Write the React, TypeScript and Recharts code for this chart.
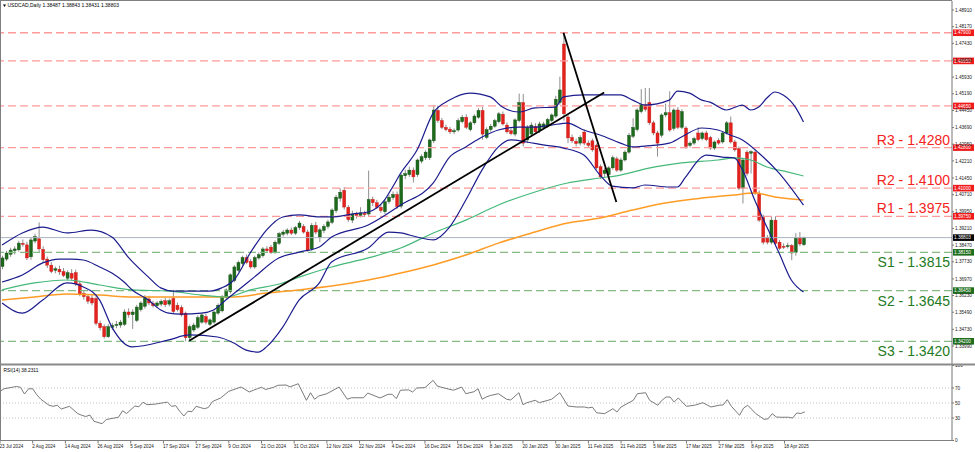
import React from "react";
import { ComposedChart, Bar, Line, XAxis, YAxis, ReferenceLine } from "recharts";

// daily candles, 23 Jul 2024 .. 25 Apr 2025 (bar index 0..197)
const opens = [
  1.3752, 1.3785, 1.3806, 1.3822, 1.3826, 1.3855, 1.3848, 1.3795, 1.3865, 1.3875,
  1.3828, 1.3785, 1.3758, 1.3735, 1.374, 1.373, 1.37, 1.3722, 1.3725, 1.3675,
  1.3632, 1.3618, 1.3612, 1.361, 1.35, 1.3485, 1.344, 1.3482, 1.349, 1.3492,
  1.3495, 1.355, 1.3538, 1.3512, 1.356, 1.3575, 1.3608, 1.3588, 1.3578, 1.3585,
  1.36, 1.3585, 1.361, 1.358, 1.357, 1.3545, 1.3436, 1.347, 1.3482, 1.3505,
  1.353, 1.3495, 1.3505, 1.3545, 1.3555, 1.3616, 1.364, 1.369, 1.3735, 1.3765,
  1.3792, 1.3775, 1.375, 1.379, 1.38, 1.383, 1.3838, 1.3815, 1.3855, 1.3895,
  1.39, 1.3914, 1.39, 1.3925, 1.393, 1.3905, 1.383, 1.3935, 1.388, 1.3912,
  1.393, 1.3948, 1.4, 1.4055, 1.409, 1.4015, 1.3958, 1.3985, 1.3978, 1.3988,
  1.3985, 1.405, 1.4035, 1.4015, 1.3995, 1.404, 1.4058, 1.4072, 1.402, 1.4155,
  1.416, 1.418, 1.416, 1.422, 1.4235, 1.4235, 1.431, 1.4445, 1.44, 1.437,
  1.4362, 1.435, 1.4358, 1.4395, 1.4415, 1.436, 1.439, 1.4415, 1.4445, 1.4325,
  1.436, 1.4375, 1.4395, 1.4428, 1.438, 1.4355, 1.434, 1.44, 1.448, 1.4314,
  1.434, 1.4375, 1.4355, 1.437, 1.4375, 1.44, 1.442, 1.448, 1.474, 1.4416,
  1.4325, 1.4308, 1.43, 1.4349, 1.43, 1.431, 1.429, 1.4195, 1.4165, 1.416,
  1.419, 1.423, 1.418, 1.4225, 1.426, 1.433, 1.436, 1.444, 1.447, 1.448,
  1.439, 1.4345, 1.4335, 1.4425, 1.4435, 1.4365, 1.4447, 1.437, 1.4367, 1.429,
  1.43, 1.4345, 1.432, 1.4345, 1.4325, 1.4278, 1.4312, 1.4305, 1.4345, 1.439,
  1.4305, 1.4275, 1.41, 1.426, 1.4255, 1.426, 1.4078, 1.397, 1.388, 1.386,
  1.3958, 1.386, 1.3842, 1.3843, 1.3845, 1.3815, 1.388, 1.38487,
];
const highs = [
  1.38, 1.3822, 1.3835, 1.3842, 1.3866, 1.3872, 1.3862, 1.3882, 1.3898, 1.3948,
  1.3842, 1.3796, 1.3772, 1.3752, 1.3756, 1.3745, 1.3735, 1.374, 1.3738, 1.369,
  1.3645, 1.363, 1.3625, 1.3622, 1.3512, 1.3495, 1.3496, 1.3502, 1.351, 1.3515,
  1.3562, 1.3566, 1.3562, 1.3582, 1.3598, 1.3625, 1.3622, 1.36, 1.3598, 1.3606,
  1.3612, 1.361, 1.3648, 1.3592, 1.358, 1.3552, 1.3495, 1.3502, 1.3535, 1.3545,
  1.3542, 1.3522, 1.3556, 1.3588, 1.3625, 1.3655, 1.3722, 1.3758, 1.3778, 1.38,
  1.3805, 1.3785, 1.38, 1.3815, 1.3838, 1.3842, 1.3848, 1.3868, 1.3905, 1.3915,
  1.3922, 1.3925, 1.3932, 1.3955, 1.394, 1.3915, 1.3945, 1.395, 1.3925, 1.394,
  1.396, 1.401, 1.407, 1.41, 1.4105, 1.4025, 1.4, 1.3995, 1.4015, 1.4,
  1.4178, 1.4062, 1.4048, 1.4028, 1.405, 1.407, 1.4085, 1.4085, 1.4165, 1.4182,
  1.4195, 1.4192, 1.4232, 1.425, 1.4268, 1.432, 1.4467, 1.4467, 1.4412, 1.4382,
  1.4372, 1.4365, 1.441, 1.4425, 1.4428, 1.4398, 1.4428, 1.4455, 1.4462, 1.437,
  1.4385, 1.4408, 1.4438, 1.444, 1.4392, 1.4365, 1.441, 1.452, 1.4518, 1.438,
  1.4392, 1.4388, 1.4395, 1.4395, 1.4412, 1.4432, 1.451, 1.4595, 1.4792, 1.4425,
  1.4338, 1.432, 1.4335, 1.436, 1.4312, 1.432, 1.4298, 1.4205, 1.419, 1.4198,
  1.4245, 1.424, 1.4235, 1.4268, 1.4345, 1.441, 1.4455, 1.454, 1.4545, 1.4545,
  1.44, 1.4355, 1.4432, 1.4475, 1.453, 1.4455, 1.446, 1.445, 1.4375, 1.4308,
  1.4328, 1.437, 1.4352, 1.4355, 1.4332, 1.4312, 1.4322, 1.4352, 1.4398, 1.4418,
  1.4315, 1.4285, 1.4232, 1.4268, 1.4268, 1.4272, 1.409, 1.3982, 1.3892, 1.3975,
  1.3975, 1.387, 1.3855, 1.3858, 1.3852, 1.39, 1.3905, 1.38843,
];
const lows = [
  1.374, 1.3776, 1.3795, 1.3805, 1.3818, 1.384, 1.378, 1.3782, 1.3855, 1.3812,
  1.3768, 1.3745, 1.3722, 1.3722, 1.3715, 1.3705, 1.369, 1.369, 1.3665, 1.362,
  1.3605, 1.3585, 1.358, 1.349, 1.3468, 1.3432, 1.3435, 1.347, 1.3478, 1.348,
  1.3488, 1.3525, 1.3475, 1.3505, 1.3552, 1.3565, 1.358, 1.357, 1.3568, 1.3575,
  1.3572, 1.3575, 1.3545, 1.3552, 1.353, 1.342, 1.3425, 1.3462, 1.3475, 1.3498,
  1.3495, 1.3488, 1.3498, 1.3538, 1.3548, 1.3608, 1.3632, 1.3682, 1.3728, 1.3755,
  1.3762, 1.3742, 1.3742, 1.3782, 1.3792, 1.3815, 1.3808, 1.3808, 1.3848, 1.3885,
  1.389, 1.3892, 1.3892, 1.3915, 1.3898, 1.3818, 1.3822, 1.3895, 1.386, 1.39,
  1.392, 1.394, 1.399, 1.404, 1.4005, 1.395, 1.3945, 1.3965, 1.397, 1.3972,
  1.3975, 1.402, 1.4008, 1.399, 1.3985, 1.403, 1.4048, 1.4008, 1.401, 1.414,
  1.415, 1.4125, 1.415, 1.421, 1.4225, 1.4225, 1.43, 1.439, 1.4362, 1.4352,
  1.434, 1.434, 1.435, 1.4388, 1.4362, 1.4352, 1.4382, 1.4408, 1.4315, 1.4318,
  1.435, 1.4368, 1.4388, 1.4378, 1.4342, 1.4335, 1.433, 1.4392, 1.4285, 1.43,
  1.433, 1.434, 1.4345, 1.436, 1.4368, 1.4392, 1.4412, 1.447, 1.44, 1.43,
  1.43, 1.4285, 1.429, 1.429, 1.428, 1.4262, 1.4182, 1.414, 1.415, 1.415,
  1.4182, 1.4172, 1.4172, 1.4218, 1.4252, 1.4322, 1.4352, 1.4432, 1.444, 1.438,
  1.4335, 1.424, 1.4325, 1.4415, 1.435, 1.4355, 1.4362, 1.4362, 1.4275, 1.428,
  1.4292, 1.4308, 1.4312, 1.4308, 1.427, 1.427, 1.4292, 1.4298, 1.4338, 1.4298,
  1.4262, 1.4092, 1.4032, 1.4155, 1.4165, 1.407, 1.395, 1.385, 1.385, 1.385,
  1.3845, 1.3825, 1.383, 1.3832, 1.378, 1.38, 1.3842, 1.38431,
];
const closes = [
  1.379, 1.3812, 1.3825, 1.383, 1.3856, 1.385, 1.379, 1.387, 1.3885, 1.383,
  1.3782, 1.3758, 1.373, 1.3742, 1.3728, 1.3712, 1.3725, 1.37, 1.3675, 1.363,
  1.3618, 1.3598, 1.359, 1.35, 1.348, 1.344, 1.3485, 1.349, 1.3495, 1.3505,
  1.355, 1.3538, 1.355, 1.3572, 1.359, 1.3615, 1.359, 1.3578, 1.359, 1.3598,
  1.3582, 1.36, 1.3552, 1.356, 1.3537, 1.3436, 1.3485, 1.3492, 1.3525, 1.3537,
  1.3505, 1.3515, 1.355, 1.358, 1.3616, 1.3648, 1.3715, 1.375, 1.377, 1.3792,
  1.377, 1.375, 1.3792, 1.3805, 1.383, 1.3822, 1.3815, 1.386, 1.3898, 1.3905,
  1.3914, 1.39, 1.3925, 1.3945, 1.3905, 1.3825, 1.3935, 1.3905, 1.3915, 1.393,
  1.395, 1.4003, 1.406, 1.4082, 1.4016, 1.396, 1.3985, 1.3978, 1.399, 1.3982,
  1.405, 1.4035, 1.4015, 1.4, 1.404, 1.406, 1.4072, 1.4018, 1.4158, 1.4165,
  1.418, 1.415, 1.4225, 1.424, 1.426, 1.4314, 1.4447, 1.44, 1.437, 1.436,
  1.435, 1.4355, 1.44, 1.4415, 1.437, 1.439, 1.442, 1.4445, 1.434, 1.436,
  1.4375, 1.44, 1.443, 1.4385, 1.435, 1.4342, 1.4403, 1.448, 1.43, 1.437,
  1.438, 1.435, 1.4385, 1.4385, 1.4405, 1.4425, 1.4495, 1.4536, 1.443, 1.4323,
  1.431, 1.4298, 1.4325, 1.43, 1.429, 1.427, 1.419, 1.415, 1.418, 1.419,
  1.4235, 1.418, 1.4225, 1.426, 1.4335, 1.437, 1.4447, 1.447, 1.445, 1.439,
  1.4345, 1.43, 1.4425, 1.4435, 1.4358, 1.4447, 1.437, 1.444, 1.4285, 1.43,
  1.432, 1.4315, 1.4345, 1.4315, 1.4278, 1.4305, 1.43, 1.4345, 1.439, 1.4305,
  1.427, 1.41, 1.4225, 1.4165, 1.4262, 1.4078, 1.3958, 1.386, 1.386, 1.3958,
  1.3855, 1.3833, 1.384, 1.3845, 1.3812, 1.3878, 1.3852, 1.38803,
];

// Bollinger bands (20) as [bar, price]
const bbUpper = [
  [0, 1.3847], [5, 1.3901], [10, 1.3927], [16, 1.3901], [22, 1.3914], [27, 1.3883], [31, 1.3794],
  [36, 1.3705], [39, 1.3657], [42, 1.3643], [51, 1.3643], [54, 1.3657], [57, 1.3692], [61, 1.3812],
  [65, 1.3914], [69, 1.3972], [73, 1.3981], [78, 1.3972], [81, 1.3972], [86, 1.3985], [90, 1.3994],
  [94, 1.4047], [96, 1.4105], [98, 1.4167], [102, 1.4269], [106, 1.4434], [110, 1.4491], [115, 1.4522],
  [120, 1.4505], [123, 1.446], [127, 1.4438], [131, 1.4456], [136, 1.446], [138, 1.4505], [143, 1.4514],
  [152, 1.4514], [155, 1.4491], [158, 1.4469], [164, 1.4491], [166, 1.4531], [169, 1.4522], [172, 1.4491],
  [174, 1.4482], [178, 1.4447], [182, 1.4469], [184, 1.4447], [186, 1.446], [188, 1.45], [190, 1.4527],
  [192, 1.4514], [195, 1.446], [197, 1.4394],
];
const bbMiddle = [
  [0, 1.3683], [5, 1.3714], [10, 1.3768], [14, 1.3785], [17, 1.3785], [20, 1.3781], [24, 1.375],
  [27, 1.3723], [30, 1.3683], [32, 1.3648], [36, 1.3603], [39, 1.3559], [41, 1.3545], [44, 1.3541],
  [49, 1.3545], [52, 1.3559], [55, 1.3603], [59, 1.3661], [62, 1.3705], [68, 1.379], [73, 1.3816],
  [78, 1.3839], [81, 1.3883], [90, 1.3936], [98, 1.4025], [106, 1.4123], [110, 1.4238], [114, 1.4283],
  [118, 1.4327], [122, 1.4358], [127, 1.4371], [131, 1.4371], [135, 1.438], [139, 1.4389], [143, 1.4358],
  [147, 1.4336], [152, 1.43], [155, 1.4283], [158, 1.4287], [164, 1.43], [167, 1.4327], [172, 1.4367],
  [176, 1.4358], [179, 1.4336], [182, 1.4314], [186, 1.4256], [191, 1.4167], [197, 1.4025],
];
const bbLower = [
  [0, 1.359], [5, 1.3545], [10, 1.3603], [16, 1.3679], [20, 1.3661], [24, 1.3603], [27, 1.3483],
  [32, 1.3395], [41, 1.3426], [46, 1.3448], [53, 1.3439], [57, 1.3412], [60, 1.3381], [63, 1.3372],
  [65, 1.3395], [69, 1.3483], [73, 1.3603], [78, 1.3679], [81, 1.3772], [90, 1.3834], [95, 1.3905],
  [98, 1.3901], [102, 1.3883], [106, 1.387], [110, 1.3927], [114, 1.4047], [118, 1.4181], [122, 1.4283],
  [125, 1.4314], [129, 1.4305], [133, 1.4292], [138, 1.4278], [143, 1.4247], [147, 1.4158], [150, 1.4109],
  [155, 1.4101], [158, 1.4114], [164, 1.4105], [166, 1.4105], [168, 1.4149], [172, 1.4238], [173, 1.4247],
  [177, 1.4238], [180, 1.4234], [182, 1.4181], [185, 1.4047], [188, 1.3927], [191, 1.3812], [194, 1.3692],
  [197, 1.3639],
];
// moving averages: green (100) and orange (200)
const maGreen = [
  [0, 1.3648], [8, 1.3679], [16, 1.3692], [24, 1.367], [32, 1.3648], [41, 1.3643], [49, 1.3625],
  [55, 1.3617], [61, 1.3648], [69, 1.3679], [73, 1.3705], [81, 1.375], [90, 1.379], [98, 1.3834],
  [106, 1.3901], [114, 1.3958], [122, 1.4025], [131, 1.4083], [139, 1.4123], [147, 1.4145], [152, 1.4158],
  [159, 1.4189], [167, 1.4212], [176, 1.4225], [180, 1.4234], [184, 1.4225], [188, 1.4194], [193, 1.4172],
  [197, 1.4154],
];
const maOrange = [
  [0, 1.3603], [8, 1.3617], [16, 1.363], [24, 1.3625], [32, 1.3617], [41, 1.3617], [49, 1.3617],
  [57, 1.3617], [65, 1.3634], [73, 1.3648], [81, 1.3665], [90, 1.3692], [98, 1.3723], [106, 1.3759],
  [114, 1.3803], [122, 1.3856], [131, 1.3905], [139, 1.3945], [147, 1.3967], [155, 1.4003], [163, 1.4034],
  [172, 1.4056], [180, 1.407], [185, 1.4078], [190, 1.4061], [197, 1.4047],
];
const trendUp = [[46, 1.3422], [148, 1.4525]];
const trendDown = [[138, 1.479], [151, 1.4038]];

const rsi14 = [
  [0, 65.6], [1, 69], [3, 71], [4, 72], [5, 71], [6, 62], [7, 69], [8, 69], [9, 61], [10, 55], [12, 47],
  [13, 45.6], [14, 47], [15, 42], [17, 45.6], [19, 36], [20, 33.6], [21, 32], [22, 34], [23, 25.6],
  [25, 22.4], [26, 28], [28, 30], [29, 31], [30, 39.7], [31, 36], [33, 46], [34, 45], [35, 51], [36, 47.8],
  [38, 48.5], [40, 50.4], [41, 51], [42, 45.6], [43, 46.5], [44, 38.9], [45, 32.7], [46, 39], [47, 38.5],
  [48, 45.6], [49, 44], [50, 42.4], [51, 44], [52, 52], [54, 56.7], [56, 65.6], [59, 71.3], [61, 64.7],
  [62, 67], [63, 69], [64, 71], [65, 68], [67, 71], [68, 73.6], [70, 74], [71, 71.5], [73, 75.7], [75, 53.6],
  [76, 63.7], [77, 55], [78, 59.3], [80, 62.4], [83, 71.3], [85, 55], [86, 57], [89, 57], [90, 63.3],
  [93, 56.7], [95, 61.6], [96, 61.6], [97, 55.8], [98, 67], [100, 67.5], [101, 64.7], [102, 70], [104, 70.5],
  [106, 80.2], [107, 72.7], [108, 71], [111, 67], [113, 71.3], [114, 62.4], [116, 65], [117, 69], [118, 55],
  [119, 58], [120, 60], [122, 62.4], [124, 55], [125, 54], [127, 63.7], [128, 47.8], [129, 50.5], [131, 53.6],
  [132, 50.4], [135, 55], [137, 63.7], [139, 46], [141, 44.7], [143, 44.7], [144, 43.5], [145, 44.5],
  [146, 37], [148, 35.8], [150, 42.4], [151, 38], [152, 44.7], [155, 53.6], [156, 62.4], [158, 63.7],
  [159, 53.6], [161, 47], [162, 53.6], [163, 58], [164, 58], [165, 51.3], [166, 56.7], [168, 45.6], [170, 47],
  [172, 50.4], [174, 44.7], [176, 47], [177, 47.5], [178, 54.4], [179, 45.6], [181, 33.6], [182, 43.3],
  [183, 47], [185, 35.8], [187, 28.2], [188, 29], [189, 35.8], [190, 31.3], [191, 31], [193, 31], [194, 30],
  [195, 36.7], [196, 36], [197, 38.23],
];

const resistanceLevels = [1.479, 1.4665, 1.4465, 1.428, 1.41, 1.3975];
const resistanceNames = ["", "", "", "R3", "R2", "R1"];
const supportLevels = [1.3815, 1.3645, 1.342];
const supportNames = ["S1", "S2", "S3"];
const lastPrice = 1.38803;

const priceTicks = [
  1.4891, 1.4817, 1.4743, 1.4669, 1.4593, 1.4519, 1.4445, 1.4369, 1.4295, 1.4221, 1.4145,
  1.4071, 1.3995, 1.3921, 1.3847, 1.3773, 1.3697, 1.3623, 1.3549, 1.3473, 1.3399,
];
const rsiTicks = [0, 30, 50, 70, 100];
const dateLabels = [
  "23 Jul 2024", "2 Aug 2024", "14 Aug 2024", "26 Aug 2024", "5 Sep 2024", "17 Sep 2024",
  "27 Sep 2024", "9 Oct 2024", "21 Oct 2024", "31 Oct 2024", "12 Nov 2024", "22 Nov 2024",
  "4 Dec 2024", "16 Dec 2024", "26 Dec 2024", "8 Jan 2025", "20 Jan 2025", "30 Jan 2025",
  "11 Feb 2025", "21 Feb 2025", "5 Mar 2025", "17 Mar 2025", "27 Mar 2025", "8 Apr 2025", "18 Apr 2025",
];
const DATE_STEP = 8;
const SLOTS = 234; // bars + empty space on the right

const FONT = "'Liberation Sans', Arial, sans-serif";
const W = 975;

type Row = { i: number; [k: string]: any };
const rows: Row[] = Array.from({ length: SLOTS }, (_, i) => ({ i }));
opens.forEach((o, i) => {
  Object.assign(rows[i], { o, h: highs[i], l: lows[i], c: closes[i], range: [lows[i], highs[i]] });
});
const put = (key: string, pts: number[][]) =>
  pts.forEach(([i, v]) => {
    rows[i][key] = v;
  });
put("bbU", bbUpper);
put("bbM", bbMiddle);
put("bbL", bbLower);
put("maG", maGreen);
put("maO", maOrange);
put("tUp", trendUp);
put("tDn", trendDown);
put("rsi", rsi14);

const dateTicks = dateLabels.map((_, k) => k * DATE_STEP);

function Candle(props: any) {
  const { x, y, width, height, payload } = props;
  if (!payload || payload.o == null || !Number.isFinite(y)) return null;
  const { o, h, l, c } = payload;
  const top = Math.min(y, y + height);
  const bot = Math.max(y, y + height);
  const py = (p: number) => top + ((h - p) / (h - l || 1e-9)) * (bot - top);
  const cx = x + width / 2;
  const up = c >= o;
  const bTop = py(Math.max(o, c));
  const bBot = py(Math.min(o, c));
  return (
    <g>
      <line x1={cx} x2={cx} y1={top} y2={bot} stroke="#8e8e8e" strokeWidth={1} />
      <rect
        x={x}
        y={bTop}
        width={width}
        height={Math.max(bBot - bTop, 1)}
        fill={up ? "#1d6a1d" : "#e3221d"}
        stroke={up ? "#154f15" : "#c41a16"}
        strokeWidth={0.4}
      />
    </g>
  );
}

// level text on the plot + coloured price box on the axis
function levelTag(name: string, lv: number, color: string, box: string, above: boolean) {
  return (props: any) => {
    const vb = props.viewBox;
    if (!vb) return null;
    const right = vb.x + vb.width;
    const y = vb.y;
    return (
      <g>
        {name ? (
          <text
            x={right - 2}
            y={above ? y - 3 : y + 15}
            textAnchor="end"
            fontSize={14}
            fontFamily={FONT}
            fill={color}
          >
            {`${name} - ${lv.toFixed(4)}`}
          </text>
        ) : null}
        <rect x={right + 1} y={y - 3.3} width={21} height={6.6} fill={box} />
        <text x={right + 2} y={y + 1.7} fontSize={4.7} fontFamily={FONT} fill="#fff">
          {lv.toFixed(5)}
        </text>
      </g>
    );
  };
}

function DateTick(props: any) {
  const { x, y, payload } = props;
  const label = dateLabels[Math.round(payload.value / DATE_STEP)];
  return (
    <text x={x - 0.5} y={y + 3} fontSize={4.6} fontFamily={FONT} fill="#222">
      {label}
    </text>
  );
}

const axisTick = { fontSize: 4.7, fill: "#222", fontFamily: FONT };

export default function App() {
  return (
    <div
      style={{
        position: "fixed",
        left: 0,
        top: 0,
        width: W,
        height: 452,
        background: "#fff",
        overflow: "hidden",
      }}
    >
      <div style={{ position: "absolute", left: 0, top: 0 }}>
        <ComposedChart width={W} height={366} data={rows} margin={{ top: 1, right: 0, bottom: 2, left: 0 }}>
          <XAxis dataKey="i" hide />
          <YAxis
            orientation="right"
            width={23}
            domain={[1.33191, 1.4931]}
            allowDataOverflow
            ticks={priceTicks}
            interval={0}
            tickFormatter={(v: number) => v.toFixed(5)}
            tick={axisTick}
            tickSize={2}
            tickMargin={1}
            axisLine={{ stroke: "#777" }}
            tickLine={{ stroke: "#777" }}
          />
          {resistanceLevels.map((lv, k) => (
            <ReferenceLine
              key={"r" + k}
              y={lv}
              stroke="#ff9a9a"
              strokeWidth={1.3}
              strokeDasharray="8 4"
              label={levelTag(resistanceNames[k], lv, "#f52222", "#f01a1a", true)}
            />
          ))}
          {supportLevels.map((lv, k) => (
            <ReferenceLine
              key={"s" + k}
              y={lv}
              stroke="#84bb84"
              strokeWidth={1.3}
              strokeDasharray="8 4"
              label={levelTag(supportNames[k], lv, "#237a23", "#1e6e1e", false)}
            />
          ))}
          <ReferenceLine
            y={lastPrice}
            stroke="#aab3bf"
            strokeWidth={1}
            label={levelTag("", lastPrice, "#000", "#000", true)}
          />
          <Line dataKey="maO" stroke="#ff9c25" strokeWidth={1.5} dot={false} connectNulls type="monotone" isAnimationActive={false} />
          <Line dataKey="maG" stroke="#45b97a" strokeWidth={1.2} dot={false} connectNulls type="monotone" isAnimationActive={false} />
          <Bar dataKey="range" barSize={3} shape={(p: any) => <Candle {...p} />} isAnimationActive={false} />
          <Line dataKey="bbU" stroke="#1c1c8e" strokeWidth={1.2} dot={false} connectNulls type="monotone" isAnimationActive={false} />
          <Line dataKey="bbM" stroke="#1c1c8e" strokeWidth={1.2} dot={false} connectNulls type="monotone" isAnimationActive={false} />
          <Line dataKey="bbL" stroke="#1c1c8e" strokeWidth={1.2} dot={false} connectNulls type="monotone" isAnimationActive={false} />
          <Line dataKey="tUp" stroke="#000" strokeWidth={1.8} dot={false} connectNulls type="linear" isAnimationActive={false} />
          <Line dataKey="tDn" stroke="#000" strokeWidth={1.8} dot={false} connectNulls type="linear" isAnimationActive={false} />
        </ComposedChart>
      </div>
      <div style={{ position: "absolute", left: 0, top: 364 }}>
        <ComposedChart width={W} height={88} data={rows} margin={{ top: 1.5, right: 0, bottom: 0, left: 0 }}>
          <XAxis
            dataKey="i"
            height={11.5}
            ticks={dateTicks}
            interval={0}
            tick={<DateTick />}
            tickSize={3}
            tickMargin={1}
            axisLine={{ stroke: "#777" }}
            tickLine={{ stroke: "#777" }}
          />
          <YAxis
            orientation="right"
            width={23}
            domain={[0, 100]}
            ticks={rsiTicks}
            interval={0}
            tick={axisTick}
            tickSize={2}
            tickMargin={1}
            axisLine={{ stroke: "#777" }}
            tickLine={{ stroke: "#777" }}
          />
          {[30, 50, 70].map((v) => (
            <ReferenceLine key={v} y={v} stroke="#c4c4c4" strokeDasharray="1 2" />
          ))}
          <Line dataKey="rsi" stroke="#7a7a7a" strokeWidth={1} dot={false} connectNulls type="linear" isAnimationActive={false} />
        </ComposedChart>
      </div>
      <svg width={W} height={452} style={{ position: "absolute", left: 0, top: 0, pointerEvents: "none" }}>
        <line x1={0.5} y1={0} x2={0.5} y2={441} stroke="#7f7f7f" />
        <line x1={0} y1={0.5} x2={952} y2={0.5} stroke="#7f7f7f" />
        <line x1={0} y1={364.5} x2={975} y2={364.5} stroke="#8a8a8a" strokeWidth={2} />
        <line x1={0} y1={440.5} x2={952} y2={440.5} stroke="#7f7f7f" />
        <polygon points="3,4.5 6,4.5 4.5,7" fill="#000" />
        <text x={7.5} y={7.3} fontSize={5} fontFamily={FONT} fill="#000">
          USDCAD,Daily 1.38487 1.38843 1.38431 1.38803
        </text>
        <text x={3.5} y={372} fontSize={4.8} fontFamily={FONT} fill="#000">
          RSI(14) 38.2311
        </text>
      </svg>
    </div>
  );
}
